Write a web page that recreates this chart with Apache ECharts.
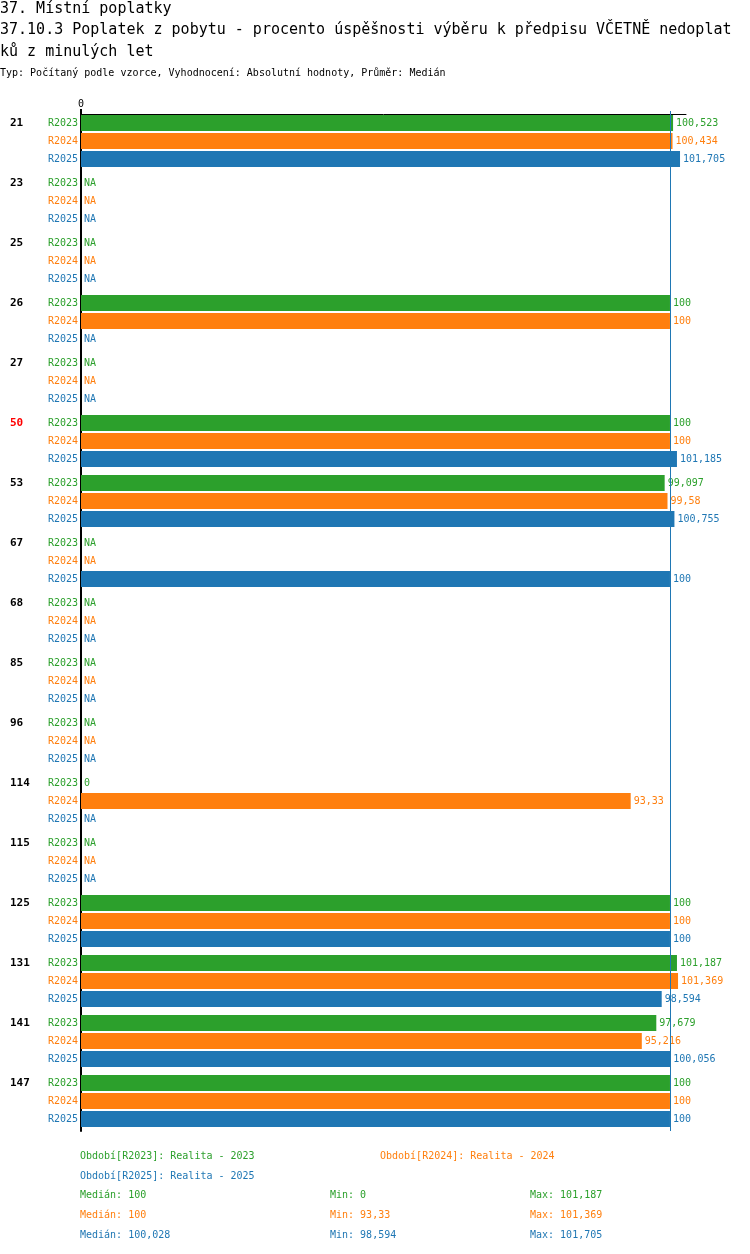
<!DOCTYPE html>
<html>
<head>
<meta charset="utf-8">
<title>37.10.3 Poplatek z pobytu</title>
<script src="https://cdn.jsdelivr.net/npm/echarts@6/dist/echarts.min.js"></script>
<style>
    html, body { margin: 0; padding: 0; background: #fff; }
    #PoplatekDiv { width: 750px; height: 1254px; }
</style>
</head>
<body>
<div id="PoplatekDiv"></div>
<script>
//obce (kategorie osy)
var categories = ['21', '23', '25', '26', '27', '50', '53', '67', '68', '85', '96', '114', '115', '125', '131', '141', '147'];
//zvýrazněná obec
var highlightCategory = '50';
//období
var periods = ['R2023', 'R2024', 'R2025'];
var periodNames = ['Realita - 2023', 'Realita - 2024', 'Realita - 2025'];
//hodnoty podle období, null = NA
var valuesR2023 = [100.523, null, null, 100, null, 100, 99.097, null, null, null, null, 0, null, 100, 101.187, 97.679, 100];
var valuesR2024 = [100.434, null, null, 100, null, 100, 99.58, null, null, null, null, 93.33, null, 100, 101.369, 95.216, 100];
var valuesR2025 = [101.705, null, null, null, null, 101.185, 100.755, 100, null, null, null, null, null, 100, 98.594, 100.056, 100];
//osa x
var axisMax = 102.72;
var axisTickValues = [0];

var colors = ['#2ca02c', '#ff7f0e', '#1f77b4'];
var fontMono = '"DejaVu Sans Mono", "Liberation Mono", monospace';

var PoplatekDivChart;

window.onload = function () {
    //inicializace grafu
    InitChart();
    //naplnění daty
    BindPoplatek();
};

//inicializace
function InitChart() {
    PoplatekDivChart = echarts.init(document.getElementById('PoplatekDiv'), null, { renderer: 'canvas' });
}

//číslo s desetinnou čárkou
function FormatNumber(v) {
    return String(Math.round(v * 1000) / 1000).replace('.', ',');
}

//statistiky bez NA
function GetStats(values) {
    var list = values.filter(function (v) { return v !== null; }).sort(function (a, b) { return a - b; });
    var mid = Math.floor(list.length / 2);
    var median = list.length % 2 ? list[mid] : (list[mid - 1] + list[mid]) / 2;
    return { median: median, min: list[0], max: list[list.length - 1] };
}

//sloupce jednoho období
function GetBarSeries(idx, values, stats) {
    return {
        name: periods[idx],
        type: 'bar',
        yAxisIndex: 0,
        barWidth: 16,
        barGap: '12.5%',
        itemStyle: { color: colors[idx] },
        label: {
            show: true,
            position: 'right',
            distance: 3,
            color: colors[idx],
            fontFamily: fontMono,
            fontSize: 10,
            formatter: function (p) {
                return p.data && p.data.na ? 'NA' : FormatNumber(p.value);
            }
        },
        data: values.map(function (v) {
            return v === null ? { value: 0, na: true } : v;
        }),
        markLine: {
            silent: true,
            symbol: 'none',
            label: { show: false },
            lineStyle: { color: colors[idx], width: 1, type: 'solid' },
            data: [{ xAxis: stats.median }]
        }
    };
}

//popisky období vlevo od osy
function GetPeriodLabelSeries(idx) {
    return {
        name: periods[idx] + '_popis',
        type: 'bar',
        yAxisIndex: 1,
        barWidth: 16,
        barGap: '12.5%',
        silent: true,
        itemStyle: { color: 'transparent' },
        label: {
            show: true,
            position: 'left',
            distance: 3,
            color: colors[idx],
            fontFamily: fontMono,
            fontSize: 10,
            formatter: periods[idx]
        },
        data: categories.map(function () { return 0; })
    };
}

//legenda a statistiky dole
function GetFooter(stats) {
    var items = [];
    function txt(x, y, s, color) {
        items.push({
            type: 'text', left: x, top: y, silent: true,
            style: { text: s, fill: color, font: '10px ' + fontMono }
        });
    }
    txt(80, 1151, 'Období[' + periods[0] + ']: ' + periodNames[0], colors[0]);
    txt(380, 1151, 'Období[' + periods[1] + ']: ' + periodNames[1], colors[1]);
    txt(80, 1171, 'Období[' + periods[2] + ']: ' + periodNames[2], colors[2]);
    for (var i = 0; i < 3; i++) {
        var y = 1190 + i * 20;
        txt(80, y, 'Medián: ' + FormatNumber(stats[i].median), colors[i]);
        txt(330, y, 'Min: ' + FormatNumber(stats[i].min), colors[i]);
        txt(530, y, 'Max: ' + FormatNumber(stats[i].max), colors[i]);
    }
    return items;
}

function BindPoplatek() {
    var allValues = [valuesR2023, valuesR2024, valuesR2025];
    var stats = allValues.map(GetStats);
    var series = [];
    for (var i = 0; i < 3; i++) {
        series.push(GetBarSeries(i, allValues[i], stats[i]));
    }
    for (var j = 0; j < 3; j++) {
        series.push(GetPeriodLabelSeries(j));
    }

    var option = {
        animation: false,
        title: [
            {
                text: '37. Místní poplatky',
                left: 0, top: 0, padding: 0,
                textStyle: { fontFamily: fontMono, fontSize: 15, fontWeight: 'normal', color: '#000', lineHeight: 18 }
            },
            {
                text: '37.10.3 Poplatek z pobytu - procento úspěšnosti výběru k předpisu VČETNĚ nedoplat\nků z minulých let',
                left: 0, top: 19, padding: 0,
                textStyle: { fontFamily: fontMono, fontSize: 15, fontWeight: 'normal', color: '#000', lineHeight: 22 }
            },
            {
                text: 'Typ: Počítaný podle vzorce, Vyhodnocení: Absolutní hodnoty, Průměr: Medián',
                left: 0, top: 67, padding: 0,
                textStyle: { fontFamily: fontMono, fontSize: 10, fontWeight: 'normal', color: '#000', lineHeight: 12 }
            }
        ],
        grid: { left: 81, right: 64, top: 111, height: 1020, containLabel: false },
        xAxis: {
            type: 'value',
            position: 'top',
            offset: -3,
            min: 0,
            max: axisMax,
            splitLine: { show: false },
            axisLine: { show: true, lineStyle: { color: '#000', width: 1 } },
            axisTick: { show: true, length: 5, customValues: axisTickValues, lineStyle: { color: '#000', width: 2 } },
            axisLabel: { show: true, margin: 5, customValues: axisTickValues, color: '#000', fontFamily: fontMono, fontSize: 10 }
        },
        yAxis: [
            {
                type: 'category',
                inverse: true,
                data: categories,
                axisLine: { show: true, lineStyle: { color: '#000', width: 2 } },
                axisTick: { show: false },
                splitLine: { show: false },
                axisLabel: {
                    margin: 71,
                    align: 'left',
                    verticalAlign: 'middle',
                    padding: [0, 0, 36, 0],
                    formatter: function (v) {
                        return v === highlightCategory ? '{hl|' + v + '}' : '{n|' + v + '}';
                    },
                    rich: {
                        n: { color: '#000', fontWeight: 'bold', fontSize: 11, fontFamily: fontMono },
                        hl: { color: '#ff0000', fontWeight: 'bold', fontSize: 11, fontFamily: fontMono }
                    }
                }
            },
            {
                type: 'category',
                inverse: true,
                show: false,
                data: categories
            }
        ],
        series: series,
        graphic: GetFooter(stats)
    };
    PoplatekDivChart.setOption(option);
}
</script>
</body>
</html>
